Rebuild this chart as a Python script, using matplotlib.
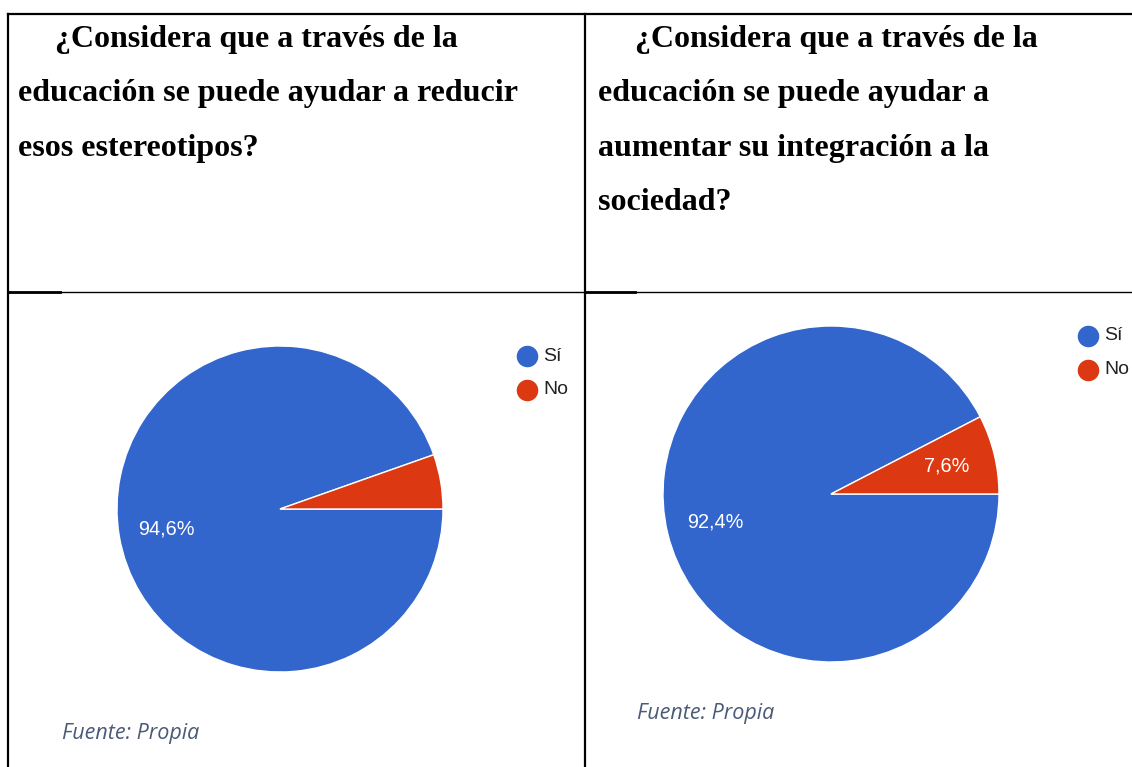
import matplotlib
matplotlib.use('Agg')
import matplotlib.pyplot as plt
from matplotlib.lines import Line2D

W, H = 1132, 767

preguntas = [
    ['¿Considera que a través de la',
     'educación se puede ayudar a reducir',
     'esos estereotipos?'],
    ['¿Considera que a través de la',
     'educación se puede ayudar a',
     'aumentar su integración a la',
     'sociedad?'],
]
categorias = ['Sí', 'No']
valores_1 = [94.6, 5.4]
valores_2 = [92.4, 7.6]
colores = ['#3366CC', '#DC3912']
fuente = 'Fuente: Propia'

fig = plt.figure(figsize=(W / 100, H / 100), dpi=100)
fig.patch.set_facecolor('white')


def px(x, y):
    # pixel coords (top-left origin) -> figure fraction
    return x / W, 1 - y / H


def linea(x0, y0, x1, y1, lw=1.6):
    a, b = px(x0, y0)
    c, d = px(x1, y1)
    fig.add_artist(Line2D([a, c], [b, d], color='black', lw=lw,
                          transform=fig.transFigure))


# table borders
linea(8, 14, 1132, 14)
linea(8, 14, 8, 767)
linea(585, 14, 585, 767)
linea(8, 292, 1132, 292, lw=1.0)
linea(8, 292, 60, 292, lw=2.0)
linea(585, 292, 635, 292, lw=2.0)

# header text
col_x = [18, 598]
for c, lineas in enumerate(preguntas):
    for i, t in enumerate(lineas):
        x = col_x[c] + (37 if i == 0 else 0)
        fx, fy = px(x, 47 + i * 54.5)
        fig.text(fx, fy, t, family='Liberation Serif', weight='bold',
                 fontsize=23, va='baseline', ha='left', color='black')


def pastel(cx, cy, r, valores, leg_x, leg_y, fx, fy):
    l, b = px(cx - r, cy + r)
    ax = fig.add_axes([l, b, 2 * r / W, 2 * r / H])
    start = 360 * valores[1] / 100
    wedges, texts, autotexts = ax.pie(
        valores, colors=colores, startangle=start, counterclock=True,
        radius=1, pctdistance=0.71,
        autopct=lambda p: (f'{p:.1f}%'.replace('.', ',') if p > 6 else ''),
        wedgeprops=dict(edgecolor='white', linewidth=1))
    for t in autotexts:
        t.set_color('white')
        t.set_fontsize(14.3)
        t.set_family('Liberation Sans')
    ax.set_xlim(-1, 1)
    ax.set_ylim(-1, 1)
    ax.set_aspect('equal')
    ax.axis('off')
    # legend
    for k, nombre in enumerate(categorias):
        y = leg_y + k * 33.5
        a, bb = px(leg_x, y)
        fig.add_artist(Line2D([a], [bb], marker='o', markersize=14.5,
                              color=colores[k], transform=fig.transFigure))
        a, bb = px(leg_x + 16, y)
        fig.text(a, bb, nombre, family='Liberation Sans', fontsize=14,
                 va='center', ha='left', color='#222222')
    a, bb = px(fx, fy)
    fig.text(a, bb, fuente, family='Open Sans', style='italic', fontsize=15.5,
             va='center', ha='left', color='#4b5a76')


pastel(280, 509, 163, valores_1, 527, 356, 62, 733)
pastel(831, 494, 168, valores_2, 1088, 336, 637, 714)

fig.savefig('out.png', dpi=100)
